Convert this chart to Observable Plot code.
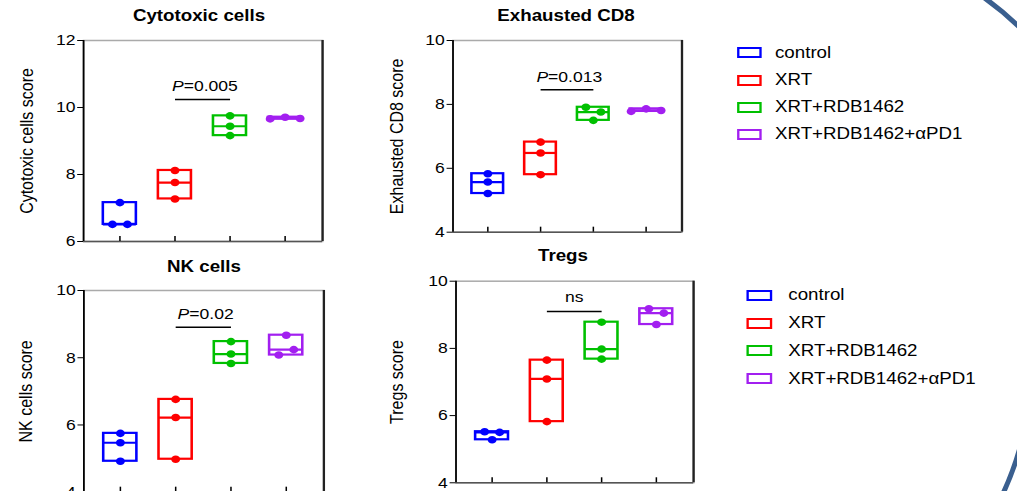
<!DOCTYPE html>
<html><head><meta charset="utf-8">
<script src="https://cdn.jsdelivr.net/npm/d3@7"></script>
<script src="https://cdn.jsdelivr.net/npm/@observablehq/plot@0.6"></script>
<style>
html,body{margin:0;padding:0;width:1017px;height:491px;overflow:hidden;background:#fff;font-family:"Liberation Sans",Arial,sans-serif;}
#stage{position:absolute;left:0;top:0;width:870px;height:491px;transform:scaleX(1.17);transform-origin:0 0;}
.title{position:absolute;font-weight:bold;font-size:16px;line-height:16px;white-space:nowrap;color:#000;transform:translateX(-50%);}
.lg-text{position:absolute;font-size:16px;line-height:16px;white-space:nowrap;color:#000;}
.lg-box{position:absolute;box-sizing:border-box;border:2px solid;background:#fff;}
#deco{position:absolute;left:0;top:0;}
</style></head>
<body><div id="stage"></div>
<svg id="deco" width="1017" height="491" viewBox="0 0 1017 491">
  <path d="M969.6,-12 A300,300 0 0 1 1040,49.4" fill="none" stroke="#3a5f8f" stroke-width="5"/>
  <path d="M1028,409.3 A300,300 0 0 1 999.9,500" fill="none" stroke="#3a5f8f" stroke-width="5"/>
</svg>
<script>
// ---------------- data ----------------
const groups = ["control", "XRT", "XRT+RDB1462", "XRT+RDB1462+αPD1"];
const groupColors = ["#0000ff", "#ff0000", "#00c000", "#a21ff0"];

const titles = ["Cytotoxic cells", "Exhausted CD8", "NK cells", "Tregs"];
const yLabels = ["Cytotoxic cells score", "Exhausted CD8 score", "NK cells score", "Tregs score"];
const yDomains = [[6, 12], [4, 10], [4, 10], [4, 10]];
const yTicks = [[6, 8, 10, 12], [4, 6, 8, 10], [4, 6, 8, 10], [4, 6, 8, 10]];

const cytotoxic = [[7.16, 6.51, 6.51], [8.12, 7.76, 7.27], [9.75, 9.44, 9.16], [9.66, 9.71, 9.67]];
const exhaustedCD8 = [[5.83, 5.57, 5.21], [6.82, 6.48, 5.80], [7.91, 7.76, 7.50], [7.78, 7.86, 7.81]];
const nkCells = [[5.75, 5.47, 4.92], [6.76, 6.22, 4.98], [8.48, 8.11, 7.83], [8.08, 8.67, 8.24]];
const tregs = [[5.52, 5.28, 5.50], [7.65, 7.09, 5.82], [8.78, 7.98, 7.68], [9.18, 8.71, 9.05]];
const datasets = [cytotoxic, exhaustedCD8, nkCells, tregs];

const pLabels = ["P=0.005", "P=0.013", "P=0.02", "ns"];
const pBarY = [10.24, 8.46, 8.91, 9.10];
const pCompare = [1, 2]; // XRT vs XRT+RDB1462

// ---------------- layout (reference pixels) ----------------
const S = 1.17; // horizontal stretch of the original figure
const layout = [
  {left: 0,   top: 0,   w: 340, h: 250, mL: 83,   mR: 18,   mT: 40,   mB: 9,    labOff: 57,   tx: 199, tb: 21.7},
  {left: 370, top: 0,   w: 330, h: 250, mL: 82.7, mR: 18.3, mT: 40,   mB: 18.3, labOff: 56,   tx: 566, tb: 21.7},
  {left: 0,   top: 250, w: 340, h: 250, mL: 83.3, mR: 16.7, mT: 40,   mB: 8.3,  labOff: 57.5, tx: 204, tb: 272.7},
  {left: 370, top: 250, w: 330, h: 250, mL: 85.7, mR: 6.7,  mT: 30.7, mB: 17.7, labOff: 59,   tx: 563, tb: 261.7}
];
const legendLayout = [
  {box: 736.7, text: 775, base: 58.3, step: 27.2},
  {box: 746.7, text: 788.3, base: 300.7, step: 27.8}
];

const stage = document.getElementById("stage");
const font = '"Liberation Sans", Arial, sans-serif';
const ctx = document.createElement("canvas").getContext("2d");
function textW(t, size, style) { ctx.font = `${style || ""} ${size}px ${font}`; return ctx.measureText(t).width; }

function makePanel(k) {
  const L = layout[k];
  const vals = datasets[k];
  const W = L.w / S, mL = L.mL / S, mR = L.mR / S;
  const innerW = W - mL - mR;
  const xDomain = [-0.66, 3.68];
  const unitPx = innerW / (xDomain[1] - xDomain[0]);
  const [y0, y1] = yDomains[k];
  const innerH = L.h - L.mT - L.mB;
  const pxPerY = innerH / (y1 - y0);
  const slotPx = 12.8, halfBox = 0.3;

  const pts = [], boxes = [];
  vals.forEach((arr, gi) => {
    const sorted = arr.map((v, j) => ({v, j})).sort((a, b) => a.v - b.v);
    const clusters = [];
    let cur = [sorted[0]];
    for (let i = 1; i < sorted.length; i++) {
      if ((sorted[i].v - sorted[i - 1].v) * pxPerY < 7) cur.push(sorted[i]);
      else { clusters.push(cur); cur = [sorted[i]]; }
    }
    clusters.push(cur);
    clusters.forEach(c => {
      c.sort((a, b) => a.j - b.j);
      c.forEach((p, m) => pts.push({g: groups[gi], v: p.v, x: gi + (m - (c.length - 1) / 2) * slotPx / unitPx}));
    });
    boxes.push({g: groups[gi], i: gi, lo: d3.min(arr), hi: d3.max(arr), med: d3.median(arr)});
  });

  const lab = pLabels[k];
  const marks = [
    Plot.frame({stroke: "#aaa", strokeWidth: 1.5}),
    Plot.ruleX([xDomain[1]], {stroke: "#222", strokeWidth: 2}),
    Plot.ruleY([y0], {stroke: "#555", strokeWidth: 1.5}),
    Plot.ruleX([xDomain[0]], {stroke: "#000", strokeWidth: 1.5}),
    Plot.ruleX(d3.range(groups.length), {x: d => d, insetTop: innerH - 5, stroke: "#000", strokeWidth: 1.3}),
    Plot.axisY({ticks: yTicks[k], tickFormat: d3.format("d"), tickSize: 5, tickPadding: 2, fontSize: 15, label: null, stroke: "#000"}),
    Plot.text([yLabels[k]], {frameAnchor: "left", textAnchor: "middle", lineAnchor: "middle", rotate: -90, dx: -L.labOff / S, fontSize: 16, fill: "#000"}),
    Plot.rect(boxes, {x1: d => d.i - halfBox, x2: d => d.i + halfBox, y1: "lo", y2: "hi", fill: "white", stroke: "g", strokeWidth: 2.2}),
    Plot.ruleY(boxes, {x1: d => d.i - halfBox, x2: d => d.i + halfBox, y: "med", stroke: "g", strokeWidth: 2.2}),
    Plot.dot(pts, {x: "x", y: "v", r: 3.8, fill: "g", stroke: "none"}),
    Plot.link([pBarY[k]], {x1: () => pCompare[0], x2: () => pCompare[1], y1: d => d, y2: d => d, stroke: "#000", strokeWidth: 1.5})
  ];
  const midX = (pCompare[0] + pCompare[1]) / 2;
  if (lab.startsWith("P")) {
    const rest = lab.slice(1);
    const wP = textW("P", 15, "italic"), wR = textW(rest, 15);
    const start = -(wP + wR) / 2 + 2;
    marks.push(Plot.text([pBarY[k]], {x: () => midX, y: d => d, text: () => "P", textAnchor: "start", lineAnchor: "bottom", dx: start, dy: -8, fontSize: 15, fontStyle: "italic", fill: "#000"}));
    marks.push(Plot.text([pBarY[k]], {x: () => midX, y: d => d, text: () => rest, textAnchor: "start", lineAnchor: "bottom", dx: start + wP, dy: -8, fontSize: 15, fill: "#000"}));
  } else {
    marks.push(Plot.text([pBarY[k]], {x: () => midX, y: d => d, text: () => lab, lineAnchor: "bottom", dy: -9, fontSize: 15, fill: "#000"}));
  }

  const svg = Plot.plot({
    width: W, height: L.h,
    marginLeft: mL, marginRight: mR, marginTop: L.mT, marginBottom: L.mB,
    x: {domain: xDomain, axis: null},
    y: {domain: [y0, y1], axis: null},
    color: {domain: groups, range: groupColors},
    style: {fontFamily: font, fontSize: "14px", color: "#000", background: "transparent", overflow: "visible"},
    marks
  });
  svg.style.position = "absolute";
  svg.style.left = (L.left / S) + "px";
  svg.style.top = L.top + "px";
  stage.appendChild(svg);

  const t = document.createElement("div");
  t.className = "title";
  t.textContent = titles[k];
  t.style.left = (L.tx / S) + "px";
  t.style.top = (L.tb - 13.5) + "px";
  stage.appendChild(t);
}
for (let k = 0; k < 4; k++) makePanel(k);

legendLayout.forEach(LG => {
  groups.forEach((g, i) => {
    const base = LG.base + i * LG.step;
    const b = document.createElement("div");
    b.className = "lg-box";
    b.style.borderColor = groupColors[i];
    b.style.left = (LG.box / S) + "px";
    b.style.width = (25 / S) + "px";
    b.style.top = (base - 11) + "px";
    b.style.height = "11px";
    stage.appendChild(b);
    const t = document.createElement("div");
    t.className = "lg-text";
    t.textContent = g;
    t.style.left = (LG.text / S) + "px";
    t.style.top = (base - 13.5) + "px";
    stage.appendChild(t);
  });
});
</script>
</body></html>
